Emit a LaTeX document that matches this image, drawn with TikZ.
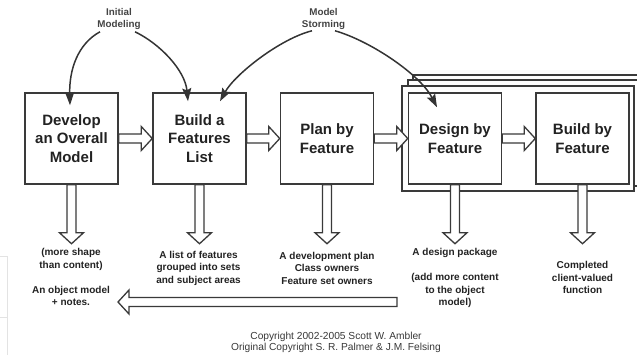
\documentclass[tikz,border=0pt]{standalone}
\usepackage{fontspec}
\setmainfont{Liberation Sans}
\usetikzlibrary{arrows.meta,calc}

\definecolor{ink}{HTML}{3A3A3A}
\definecolor{textink}{HTML}{222222}

% hollow block arrow from #1 to #2 (tip at #2)
\newcommand\blockarrow[2]{%
  \coordinate (ba-base) at ($(#2)!11pt!(#1)$);
  \draw[blockpen]
    ($(#1)!4.5pt!90:(#2)$) -- ($(ba-base)!4.5pt!90:(#2)$) --
    ($(ba-base)!12pt!90:(#2)$) -- (#2) --
    ($(ba-base)!12pt!-90:(#2)$) -- ($(ba-base)!4.5pt!-90:(#2)$) --
    ($(#1)!4.5pt!-90:(#2)$) -- cycle;}

\tikzset{
  stagebox/.style={draw=ink, line width=1.5pt, fill=white,
    minimum width=93pt, minimum height=91pt, inner sep=0pt, align=center,
    text=textink, font=\bfseries\fontsize{15}{18.5}\selectfont},
  outcome/.style={align=center, text=textink, inner sep=0pt,
    font=\bfseries\fontsize{10}{12.5}\selectfont},
  toplabel/.style={align=center, text=textink!85, inner sep=0pt,
    font=\bfseries\fontsize{9.8}{12}\selectfont},
  framepen/.style={draw=ink, line width=1.2pt, fill=white},
  blockpen/.style={draw=ink, line width=1.3pt, fill=white, line join=miter},
  curve/.style={draw=ink!90!black, line width=1.5pt,
    -{Stealth[length=13pt,width=9pt,inset=2pt]}},
}

\begin{document}
\begin{tikzpicture}[x=1pt,y=-1pt]
\useasboundingbox (0,0) rectangle (637,355);
\clip (0,0) rectangle (637,355);

% faint edge of a neighbouring panel
\draw[gray!22, line width=0.8pt] (0,256) -- (7,256) -- (7,355);
\draw[gray!22, line width=0.8pt] (0,317) -- (7,317);

% stacked iteration frames around design / build
\draw[framepen] (413,75) rectangle (650,180);
\draw[framepen] (408,80) rectangle (645,186);
\draw[framepen] (402,86) rectangle (634,191);

% process stages
\node[stagebox] (b1) at (71.5,138.5) {Develop\\an Overall\\Model};
\node[stagebox] (b2) at (199.5,138.5) {Build a\\Features\\List};
\node[stagebox] (b3) at (327,138.5) {Plan by\\Feature};
\node[stagebox] (b4) at (455,138.5) {Design by\\Feature};
\node[stagebox] (b5) at (582.5,138.5) {Build by\\Feature};

% flow between stages
\blockarrow{b1.east}{b2.west}
\blockarrow{b2.east}{b3.west}
\blockarrow{b3.east}{b4.west}
\blockarrow{b4.east}{b5.west}

% outputs of each stage
\coordinate (o1) at ($(b1.south)+(0,59)$);
\coordinate (o2) at ($(b2.south)+(0,59)$);
\coordinate (o3) at ($(b3.south)+(0,59)$);
\coordinate (o4) at ($(b4.south)+(0,59)$);
\coordinate (o5) at ($(b5.south)+(0,59)$);
\blockarrow{b1.south}{o1}
\blockarrow{b2.south}{o2}
\blockarrow{b3.south}{o3}
\blockarrow{b4.south}{o4}
\blockarrow{b5.south}{o5}

\node[outcome] (l1) at (71,277) {(more shape\\than content)\\[12.5pt]An object model\\+ notes.};
\node[outcome] (l2) at (198.5,268) {A list of features\\grouped into sets\\and subject areas};
\node[outcome] (l3) at (327,268) {A development plan\\Class owners\\Feature set owners};
\node[outcome] (l4) at (455,278) {A design package\\[12.5pt](add more content\\to the object\\model)};
\node[outcome] (l5) at (582.5,277.5) {Completed\\client-valued\\function};

% feedback into the object model
\coordinate (fbstart) at (397,302);
\coordinate (fbend) at (118,302);
\blockarrow{fbstart}{fbend}

% modeling sessions
\node[toplabel] (init) at (119,19) {Initial\\Modeling};
\node[toplabel] (storm) at (323.5,19) {Model\\Storming};

\draw[curve] ($(init.south)+(-19,2)$) .. controls +(-22,12) and +(-1,-36) .. ($(b1.north)+(-1.5,13)$);
\draw[curve] ($(init.south)+(16,2)$) .. controls +(25,12) and +(-3,-31) .. ($(b2.north)+(-11.5,9)$);
\draw[curve] ($(storm.south)+(-11.5,1)$) .. controls +(-32,8) and +(15,-27) .. ($(b2.north)+(20.5,9)$);
\draw[curve] ($(storm.south)+(11.5,1)$) .. controls +(35,10) and +(-17,-33) .. ($(b4.north)+(-18,15)$);

% credits
\node[align=center, text=textink!90, inner sep=0pt,
  font=\fontsize{10.2}{11.5}\selectfont] (credit) at (336,342.5)
  {Copyright 2002-2005 Scott W. Ambler\\Original Copyright S. R. Palmer \& J.M. Felsing};
\end{tikzpicture}
\end{document}
